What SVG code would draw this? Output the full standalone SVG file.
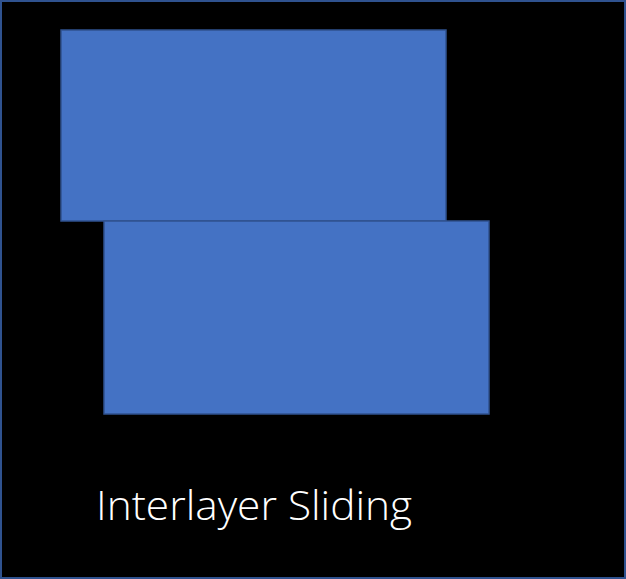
<svg xmlns="http://www.w3.org/2000/svg" width="626" height="579" viewBox="0 0 626 579">
  <style>
    .layer { fill: #4472C4; stroke: #2F528F; stroke-width: 1.5; }
    .caption { font-family: "Open Sans", "Liberation Sans", sans-serif; font-weight: 300; font-size: 40px; fill: #FFFFFF; }
  </style>
  <!-- background panel with thin blue frame -->
  <rect x="1" y="1" width="624" height="577" fill="#000000" stroke="#2F528F" stroke-width="2"/>
  <!-- upper layer -->
  <g id="layer-top">
    <rect class="layer" x="61" y="30" width="385" height="191"/>
  </g>
  <!-- lower layer, shifted right -->
  <g id="layer-bottom">
    <rect class="layer" x="104" y="221" width="385" height="193"/>
  </g>
  <g id="connectors"></g>
  <g id="label">
    <text class="caption" x="96" y="520" textLength="316" lengthAdjust="spacingAndGlyphs">Interlayer Sliding</text>
  </g>
</svg>
